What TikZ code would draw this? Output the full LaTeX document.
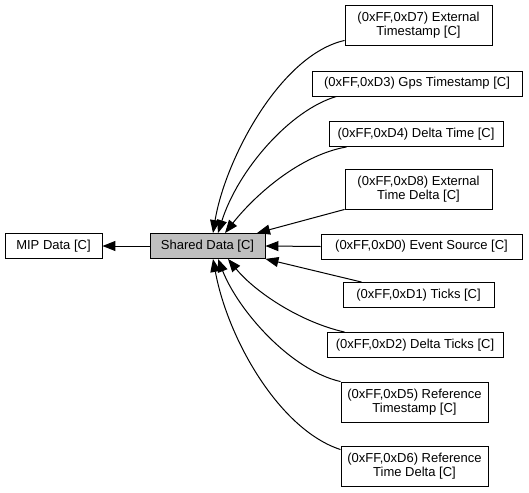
\documentclass[tikz,border=0pt]{standalone}
\usepackage{fontspec}
\setmainfont{Liberation Sans}
\usetikzlibrary{arrows.meta}
\begin{document}
\begin{tikzpicture}[x=1pt,y=-1pt,
  box/.style={draw=black,line width=0.9pt,fill=white,inner sep=0pt,align=center,
    font=\fontsize{13}{14.5}\selectfont},
  one/.style={box,minimum height=25pt},
  two/.style={box,minimum height=40pt},
  edge/.style={draw=black,line width=1pt,-{Triangle[length=13pt,width=10pt]}}]
\useasboundingbox (0,0) rectangle (529,492);
\node[one,minimum width=97pt] (mip) at (53.5,246) {MIP Data [C]};
\node[one,minimum width=115pt,fill={rgb,255:red,191;green,191;blue,191}] (shared) at (207.5,246) {Shared Data [C]};
\node[two,minimum width=147pt] (d7) at (418.5,25) {(0xFF,0xD7) External\\Timestamp [C]};
\node[one,minimum width=210pt] (gps) at (417,83.5) {(0xFF,0xD3) Gps Timestamp [C]};
\node[one,minimum width=174pt] (dt) at (416,134) {(0xFF,0xD4) Delta Time [C]};
\node[two,minimum width=147pt] (d8) at (418.5,189) {(0xFF,0xD8) External\\Time Delta [C]};
\node[one,minimum width=201pt] (ev) at (421.5,246.5) {(0xFF,0xD0) Event Source [C]};
\node[one,minimum width=151pt] (ticks) at (418.5,295) {(0xFF,0xD1) Ticks [C]};
\node[one,minimum width=176pt] (dticks) at (415,345) {(0xFF,0xD2) Delta Ticks [C]};
\node[two,minimum width=147pt] (rts) at (414.5,402) {(0xFF,0xD5) Reference\\Timestamp [C]};
\node[two,minimum width=147pt] (rtd) at (414.5,466) {(0xFF,0xD6) Reference\\Time Delta [C]};
\draw[edge] (shared.west) -- (mip.east);
\draw[edge] ([yshift=5pt]d7.south west) .. controls (280,55) and (225,160) .. ([xshift=5.5pt]shared.north);
\draw[edge] ([xshift=25pt]gps.south west) .. controls (290,110) and (238,170) .. ([xshift=10.5pt]shared.north);
\draw[edge] ([xshift=18pt]dt.south west) .. controls (300,155) and (255,195) .. ([xshift=17.5pt]shared.north);
\draw[edge] (d8.south west) -- ([xshift=49.5pt]shared.north);
\draw[edge] (ev.west) -- (shared.east);
\draw[edge] ([xshift=19pt]ticks.north west) -- (shared.south east);
\draw[edge] ([xshift=18pt]dticks.north west) .. controls (300,322) and (255,292) .. ([xshift=20.5pt]shared.south);
\draw[edge] (rts.north west) .. controls (290,370) and (238,310) .. ([xshift=10.5pt]shared.south);
\draw[edge] ([yshift=-4pt]rtd.north west) .. controls (280,430) and (228,340) .. ([xshift=5.5pt]shared.south);
\end{tikzpicture}
\end{document}
